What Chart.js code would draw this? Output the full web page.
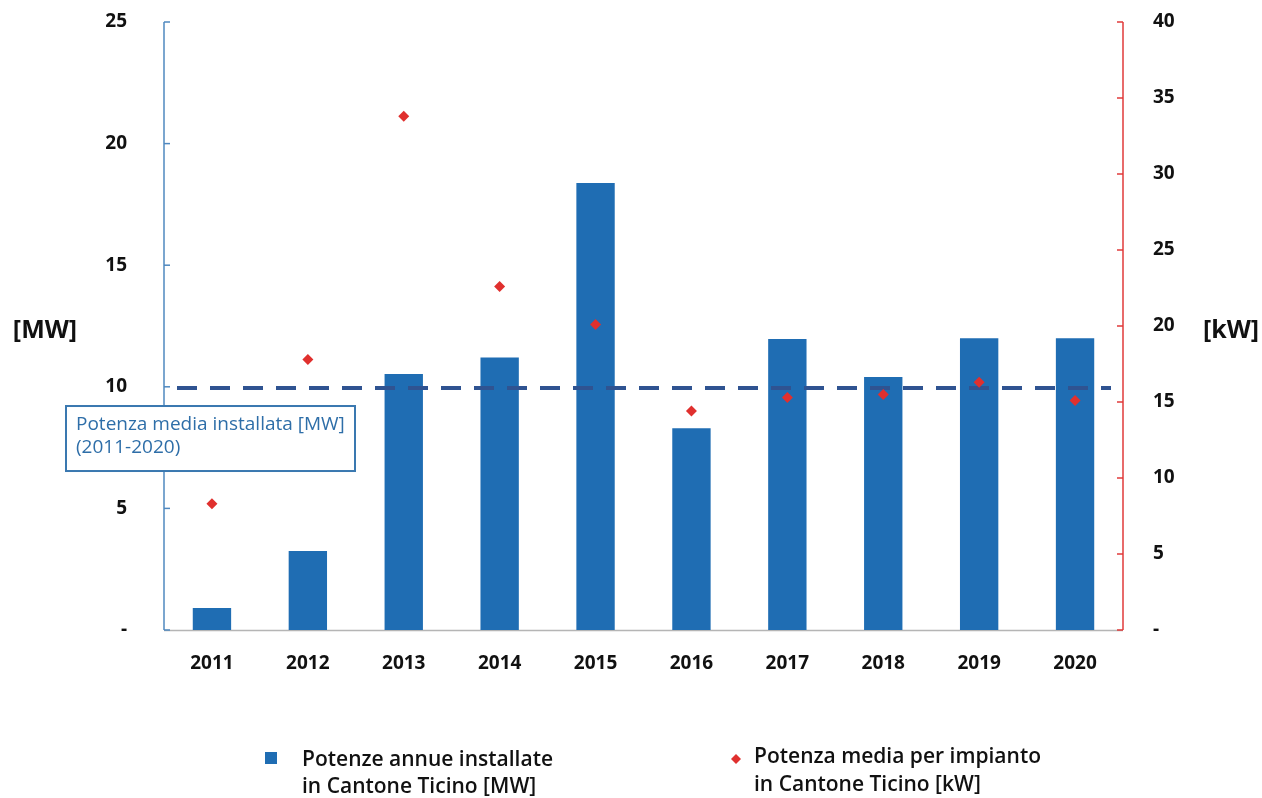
<!DOCTYPE html>
<html>
<head>
<meta charset="utf-8">
<script src="https://cdn.jsdelivr.net/npm/chart.js@4.4.1/dist/chart.umd.min.js"></script>
<style>
  html, body { margin: 0; padding: 0; background: #fff; }
  #wrap { width: 1262px; height: 798px; position: relative; }
</style>
</head>
<body>
<div id="wrap"><canvas id="myChart"></canvas></div>
<script>
const anni = ['2011', '2012', '2013', '2014', '2015', '2016', '2017', '2018', '2019', '2020'];
const potenzeAnnueMW = [0.9, 3.25, 10.53, 11.2, 18.38, 8.3, 11.97, 10.4, 12.0, 12.0]; // barre, asse sinistro
const potenzaMediaKW = [8.3, 17.8, 33.8, 22.6, 20.1, 14.4, 15.3, 15.5, 16.3, 15.1]; // rombi, asse destro
const mediaInstallataMW = 9.95; // linea tratteggiata 2011-2020
const tickMW = [0, 5, 10, 15, 20, 25];
const tickKW = [0, 5, 10, 15, 20, 25, 30, 35, 40];

const blu = '#1f6db3';
const rosso = '#e0302e';
const asseBlu = '#4f88bf';
const asseRosso = '#e03a3a';
const font = '"Open Sans", sans-serif';

// linea media, assi con tacche interne, etichette delle unità, riquadro e legenda
const decorazioni = {
  id: 'decorazioni',
  beforeDatasetsDraw(chart) {
    const { ctx, chartArea: a, scales } = chart;
    ctx.save();
    ctx.lineWidth = 1.5;
    // asse x
    ctx.strokeStyle = '#b5b5b5';
    ctx.beginPath(); ctx.moveTo(a.left, a.bottom + 0.5); ctx.lineTo(a.right, a.bottom + 0.5); ctx.stroke();
    // asse sinistro
    ctx.strokeStyle = asseBlu;
    ctx.beginPath(); ctx.moveTo(a.left, a.top); ctx.lineTo(a.left, a.bottom); ctx.stroke();
    tickMW.forEach(v => {
      const y = scales.yMW.getPixelForValue(v);
      ctx.beginPath(); ctx.moveTo(a.left, y); ctx.lineTo(a.left + 6, y); ctx.stroke();
    });
    // asse destro
    ctx.strokeStyle = asseRosso;
    ctx.beginPath(); ctx.moveTo(a.right, a.top); ctx.lineTo(a.right, a.bottom); ctx.stroke();
    tickKW.forEach(v => {
      const y = scales.yKW.getPixelForValue(v);
      ctx.beginPath(); ctx.moveTo(a.right, y); ctx.lineTo(a.right - 6, y); ctx.stroke();
    });
    ctx.restore();
  },
  afterDatasetDraw(chart, args) {
    // la linea media va sopra le barre e sotto i rombi
    if (args.index !== 0) return;
    const { ctx, chartArea: a, scales } = chart;
    const y = scales.yMW.getPixelForValue(mediaInstallataMW);
    ctx.save();
    ctx.strokeStyle = '#2f5391';
    ctx.lineWidth = 4;
    ctx.setLineDash([20, 13]);
    ctx.beginPath(); ctx.moveTo(a.left + 13, y); ctx.lineTo(a.right - 12, y); ctx.stroke();
    ctx.restore();
  },
  afterDraw(chart) {
    const { ctx, scales } = chart;
    ctx.save();
    // unità
    ctx.fillStyle = '#111';
    ctx.font = 'bold 25px ' + font;
    ctx.textBaseline = 'middle';
    ctx.textAlign = 'center';
    ctx.fillText('[MW]', 45, 331);
    ctx.fillText('[kW]', 1231, 331);

    // riquadro della media
    const yLinea = scales.yMW.getPixelForValue(mediaInstallataMW);
    const bx = 66, by = yLinea + 18, bw = 289, bh = 65;
    ctx.fillStyle = '#fff';
    ctx.fillRect(bx, by, bw, bh);
    ctx.strokeStyle = '#3a78b0';
    ctx.lineWidth = 2;
    ctx.strokeRect(bx, by, bw, bh);
    ctx.fillStyle = '#2e6ea8';
    ctx.font = '19px ' + font;
    ctx.textAlign = 'left';
    ctx.fillText('Potenza media installata [MW]', bx + 10, by + 19);
    ctx.fillText('(2011-2020)', bx + 10, by + 42);

    // legenda
    ctx.fillStyle = blu;
    ctx.fillRect(265, 752, 12, 12);
    ctx.fillStyle = rosso;
    ctx.beginPath();
    ctx.moveTo(736, 754); ctx.lineTo(741, 759); ctx.lineTo(736, 764); ctx.lineTo(731, 759);
    ctx.closePath(); ctx.fill();
    ctx.fillStyle = '#111';
    ctx.font = '600 21px ' + font;
    ctx.fillText('Potenze annue installate', 302, 760);
    ctx.fillText('in Cantone Ticino [MW]', 302, 787);
    ctx.fillText('Potenza media per impianto', 754, 757);
    ctx.fillText('in Cantone Ticino [kW]', 754, 785);
    ctx.restore();
  }
};

const ctx = document.getElementById('myChart').getContext('2d');

const myChart = new Chart(ctx, {
  type: 'bar',
  data: {
    labels: anni,
    datasets: [
      {
        label: 'Potenze annue installate in Cantone Ticino [MW]',
        data: potenzeAnnueMW,
        backgroundColor: blu,
        yAxisID: 'yMW',
        barPercentage: 0.4,
        categoryPercentage: 1.0,
        order: 2
      },
      {
        type: 'line',
        label: 'Potenza media per impianto in Cantone Ticino [kW]',
        data: potenzaMediaKW,
        yAxisID: 'yKW',
        showLine: false,
        pointStyle: 'rectRot',
        pointRadius: 5.5,
        pointBackgroundColor: rosso,
        pointBorderColor: rosso,
        pointBorderWidth: 0,
        order: 1
      }
    ]
  },
  options: {
    responsive: true,
    maintainAspectRatio: false,
    animation: false,
    layout: { padding: { top: 22, left: 0, right: 0, bottom: 0 } },
    plugins: {
      legend: { display: false },
      tooltip: { enabled: false }
    },
    scales: {
      x: {
        grid: { display: false },
        border: { display: false },
        ticks: {
          color: '#111',
          font: { family: font, size: 19, weight: 'bold' },
          padding: 14
        },
        afterFit(scale) { scale.height = 168; scale.paddingLeft = 0; scale.paddingRight = 0; }
      },
      yMW: {
        position: 'left',
        min: 0,
        max: 25,
        afterBuildTicks(scale) { scale.ticks = tickMW.map(v => ({ value: v })); },
        grid: { display: false },
        border: { display: false },
        ticks: {
          color: '#111',
          font: { family: font, size: 19, weight: 'bold' },
          padding: 29,
          callback: v => v === 0 ? '-' : v
        },
        afterFit(scale) { scale.width = 164; scale.paddingTop = 0; scale.paddingBottom = 0; }
      },
      yKW: {
        position: 'right',
        min: 0,
        max: 40,
        afterBuildTicks(scale) { scale.ticks = tickKW.map(v => ({ value: v })); },
        grid: { display: false },
        border: { display: false },
        ticks: {
          color: '#111',
          font: { family: font, size: 19, weight: 'bold' },
          padding: 22,
          callback: v => v === 0 ? '-' : v
        },
        afterFit(scale) { scale.width = 139; scale.paddingTop = 0; scale.paddingBottom = 0; }
      }
    }
  },
  plugins: [decorazioni]
});
</script>
</body>
</html>
